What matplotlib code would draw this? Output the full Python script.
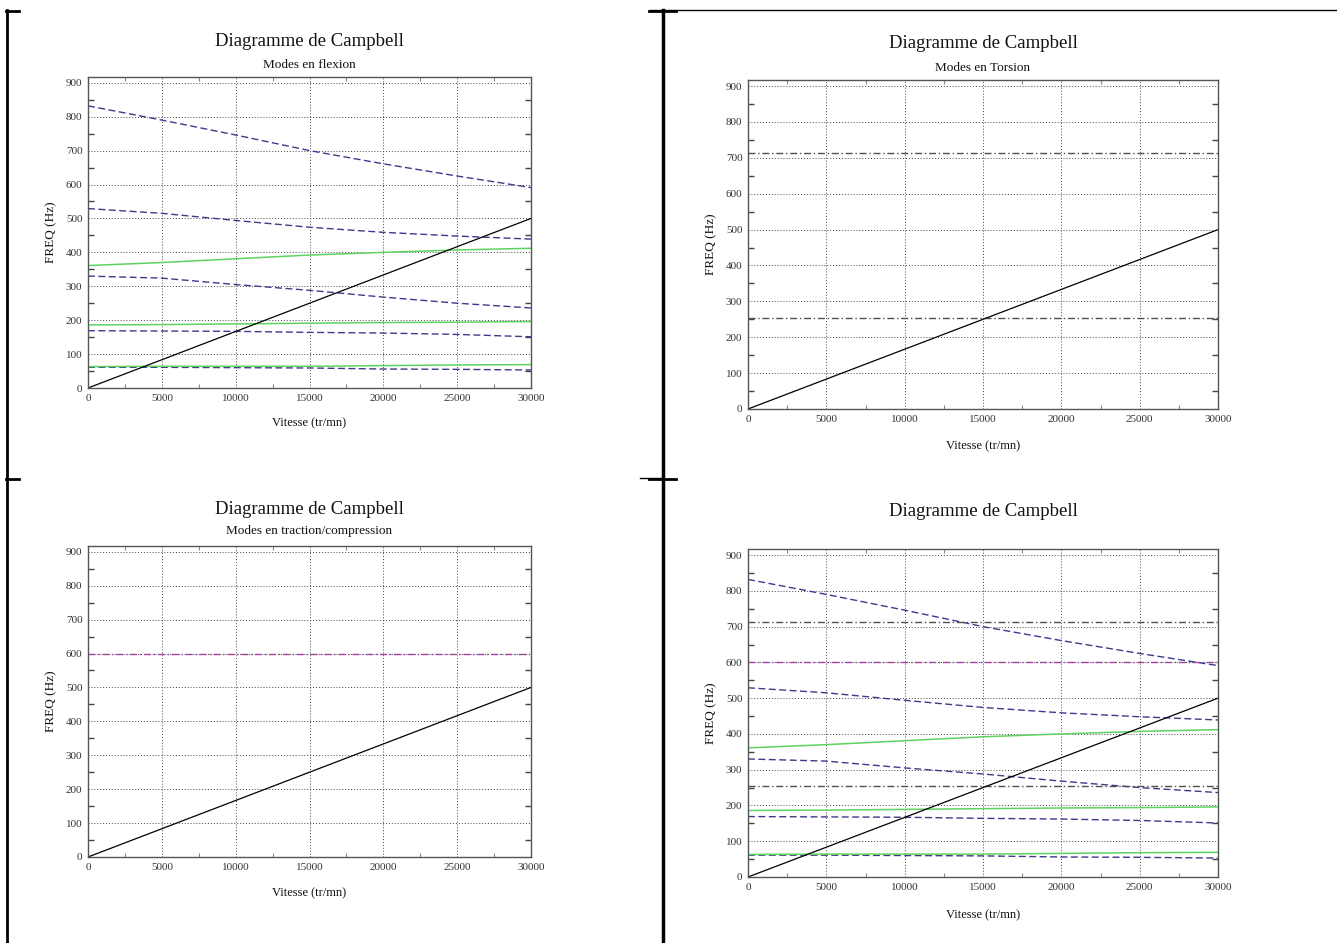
import numpy as np
import matplotlib
matplotlib.use('Agg')
import matplotlib.pyplot as plt
from matplotlib.lines import Line2D
from matplotlib.ticker import MultipleLocator

plt.rcParams['font.family'] = ['Liberation Serif', 'DejaVu Serif']

W, H = 1337, 943

# vitesse (tr/mn)
speed = [0, 5000, 10000, 15000, 20000, 25000, 30000]

# modes en flexion (pointilles bleus)
flex_blue_1 = [832, 790, 746, 700, 661, 625, 591]
flex_blue_2 = [529, 515, 494, 474, 459, 448, 439]
flex_blue_3 = [330, 324, 305, 288, 268, 250, 236]
flex_blue_4 = [169, 168, 167, 164, 162, 158, 151]
flex_blue_5 = [61, 61, 60, 59, 56, 55, 53]
# modes en flexion (traits verts)
flex_green_1 = [361, 370, 381, 392, 400, 407, 412]
flex_green_2 = [186, 187, 189, 191, 193, 194, 196]
flex_green_3 = [63, 64, 64, 64, 66, 68, 69]

# modes en torsion et traction/compression (constantes)
torsion_modes = [714, 255]
traction_modes = [600]

# droite d'excitation 1x (tr/mn -> Hz)
excit_speed = [0, 30000]
excit_freq = [0, 500]

blue = '#3b3b8e'
green = '#5fd35f'
purple = '#a040a0'
grey = '#505050'


def px_axes(l, r, t, b):
    return [l / W, 1 - b / H, (r - l) / W, (b - t) / H]


def setup(ax):
    ax.set_xlim(0, 30000)
    ax.set_ylim(0, 917)
    ax.set_xticks(np.arange(0, 30001, 5000))
    ax.set_yticks(np.arange(0, 901, 100))
    ax.xaxis.set_minor_locator(MultipleLocator(2500))
    ax.yaxis.set_minor_locator(MultipleLocator(50))
    ax.grid(True, which='major', linestyle=(0, (1, 2)), color='#444444', linewidth=0.7)
    ax.tick_params(which='major', length=0, pad=4, labelsize=8, colors='#333333')
    ax.tick_params(axis='y', which='minor', direction='in', length=4, width=1,
                   colors='#444444', right=True)
    ax.tick_params(axis='x', which='minor', direction='in', length=3, width=0.8,
                   colors='#888888', top=True)
    for s in ax.spines.values():
        s.set_color('#555555')
        s.set_linewidth(1.0)


def draw_flexion(ax):
    for f in [flex_blue_1, flex_blue_2, flex_blue_3, flex_blue_4, flex_blue_5]:
        ax.plot(speed, f, color=blue, linewidth=1.0, dashes=(5, 2.5))
    for f in [flex_green_1, flex_green_2, flex_green_3]:
        ax.plot(speed, f, color=green, linewidth=1.1)


def draw_torsion(ax):
    for f in torsion_modes:
        ax.axhline(f, color=grey, linewidth=1.0, dashes=(5, 2, 1, 2))


def draw_traction(ax):
    for f in traction_modes:
        ax.axhline(f, color=purple, linewidth=1.0, dashes=(5, 2, 1, 2))


def draw_excit(ax):
    ax.plot(excit_speed, excit_freq, color='black', linewidth=0.9)


fig = plt.figure(figsize=(W / 100, H / 100), dpi=100)
fig.patch.set_facecolor('white')

panels = [
    # (l, r, t, b), title y, subtitle, subtitle y, xlabel y, ylabel x, funcs
    ((88, 531, 77, 388), 42, 'Modes en flexion', 65, 423, 51, [draw_flexion]),
    ((748, 1218, 80, 409), 43, 'Modes en Torsion', 68, 446, 711, [draw_torsion]),
    ((88, 531, 546, 857), 510, 'Modes en traction/compression', 531, 893, 51, [draw_traction]),
    ((748, 1218, 549, 877), 512, None, None, 915, 711,
     [draw_flexion, draw_torsion, draw_traction]),
]

for (l, r, t, b), ty, sub, sy, xly, ylx, funcs in panels:
    ax = fig.add_axes(px_axes(l, r, t, b))
    setup(ax)
    for fn in funcs:
        fn(ax)
    draw_excit(ax)
    cx = (l + r) / 2 / W
    fig.text(cx, 1 - ty / H, 'Diagramme de Campbell', ha='center', va='center',
             fontsize=13.5, color='#111111')
    if sub:
        fig.text(cx, 1 - sy / H, sub, ha='center', va='center', fontsize=9.5,
                 color='#111111')
    fig.text(cx, 1 - xly / H, 'Vitesse (tr/mn)', ha='center', va='center',
             fontsize=9, color='#111111')
    fig.text(ylx / W, 1 - ((t + b) / 2) / H, 'FREQ (Hz)', ha='center', va='center',
             rotation=90, fontsize=9.5, color='#111111')


# cadre du tableau
def fline(x0, y0, x1, y1, lw):
    fig.add_artist(Line2D([x0 / W, x1 / W], [1 - y0 / H, 1 - y1 / H],
                          color='black', linewidth=lw))


fline(7, 10, 7, H, 2.0)
fline(663, 10, 663, H, 2.5)
fline(650, 9.5, W, 9.5, 1.0)
fline(6, 10.5, 19, 10.5, 2.0)
fline(649, 10.5, 676, 10.5, 2.0)
fline(6, 479, 19, 479, 2.0)
fline(649, 479, 676, 479, 2.0)
fline(640, 478, 663, 478, 1.0)

fig.savefig('out.png', dpi=100)
